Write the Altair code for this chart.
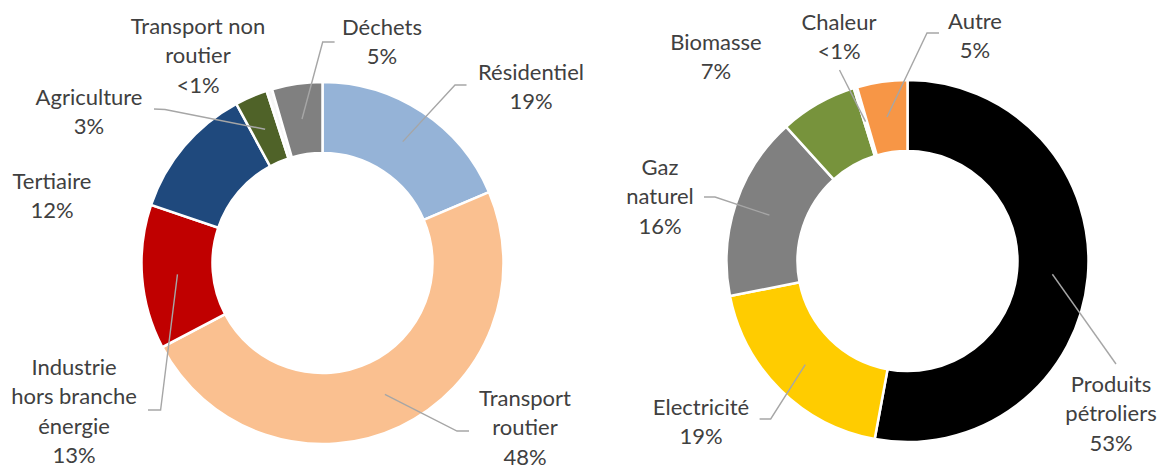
import math
import altair as alt
import pandas as pd

# ---------------- data ----------------
left_cats = ["Résidentiel", "Transport routier", "Industrie hors branche énergie",
             "Tertiaire", "Agriculture", "Transport non routier", "Déchets"]
left_vals = [18.6, 48.7, 12.9, 11.9, 2.9, 0.5, 4.5]
left_text = ["Résidentiel\n19%", "Transport\nroutier\n48%", "Industrie\nhors branche\nénergie\n13%",
             "Tertiaire\n12%", "Agriculture\n3%", "Transport non\nroutier\n<1%", "Déchets\n5%"]

right_cats = ["Produits pétroliers", "Electricité", "Gaz naturel", "Biomasse", "Chaleur", "Autre"]
right_vals = [52.9, 19.0, 16.4, 6.9, 0.3, 4.5]
right_text = ["Produits\npétroliers\n53%", "Electricité\n19%", "Gaz\nnaturel\n16%",
              "Biomasse\n7%", "Chaleur\n<1%", "Autre\n5%"]

# ---------------- styles / layout ----------------
left_colors = ["#95B3D7", "#FAC090", "#C00000", "#1F497D", "#4F6228", "#F7F7F7", "#808080"]
right_colors = ["#000000", "#FFCC00", "#808080", "#77933C", "#F7F7F7", "#F79646"]

W, H = 1150, 464
OFF = 8  # page margin: data coordinates below are page coordinates
L_CENTER = (322.5, 263.0)
R_CENTER = (907.5, 261.0)
R_IN, R_OUT = 110, 181
R_LEAD = 145.5
LINE_H = 29.3

# label positions: centre x and first-line y (page coords)
left_label_pos = [(531, 73), (525, 399), (74, 368), (52, 182), (89, 98), (198, 27), (382, 28)]
right_label_pos = [(1111, 385), (701, 408), (660, 168), (716, 43), (839, 23), (975, 22)]

# leader elbows/ends (page coords); None = no leader
left_leaders = [((455, 85), (466.5, 85)), ((457, 431), (469, 431)), ((160.6, 410), (148, 410)),
                None, ((165, 109.5), (154, 109)), None, ((322.7, 42), (334.6, 42))]
right_leaders = [((1116, 364), (1116, 364)), ((770.7, 419), (759.6, 419)), ((715, 197), (704, 197)),
                 None, ((839.5, 70), (839.5, 70)), ((927, 33), (939, 33))]


def arc_df(cats, vals):
    return pd.DataFrame({"cat": cats, "value": vals, "idx": list(range(len(cats)))})


def leader_rows(prefix, cats, vals, center, leaders):
    rows = []
    total = sum(vals)
    cum = 0.0
    for i, (c, v) in enumerate(zip(cats, vals)):
        mid = (cum + v / 2) / total * 2 * math.pi
        cum += v
        if leaders[i] is None:
            continue
        sx = center[0] + R_LEAD * math.sin(mid)
        sy = center[1] - R_LEAD * math.cos(mid)
        pts = [(sx, sy), leaders[i][0], leaders[i][1]]
        for k, (px, py) in enumerate(pts):
            rows.append({"leader": f"{prefix}{i}", "pt": k, "x": px, "y": py})
    return rows


lead_df = pd.DataFrame(leader_rows("L", left_cats, left_vals, L_CENTER, left_leaders)
                       + leader_rows("R", right_cats, right_vals, R_CENTER, right_leaders))

label_df = pd.DataFrame({
    "text": left_text + right_text,
    "x": [p[0] for p in left_label_pos] + [p[0] for p in right_label_pos],
    "y": [p[1] for p in left_label_pos] + [p[1] for p in right_label_pos],
})

xscale = alt.Scale(domain=[OFF, W + OFF], range=[0, W], nice=False, zero=False)
yscale = alt.Scale(domain=[OFF, H + OFF], range=[0, H], nice=False, zero=False)


def donut(df, cats, colors, center):
    return alt.Chart(df).mark_arc(innerRadius=R_IN, outerRadius=R_OUT, stroke="white",
                                  strokeWidth=2.5).encode(
        theta=alt.Theta("value:Q", stack=True),
        color=alt.Color("cat:N", scale=alt.Scale(domain=cats, range=colors), legend=None),
        order=alt.Order("idx:Q"),
        x=alt.value(center[0] - OFF),
        y=alt.value(center[1] - OFF),
    )


left_arc = donut(arc_df(left_cats, left_vals), left_cats, left_colors, L_CENTER)
right_arc = donut(arc_df(right_cats, right_vals), right_cats, right_colors, R_CENTER)

leaders = alt.Chart(lead_df).mark_line(color="#A6A6A6", strokeWidth=1.4).encode(
    x=alt.X("x:Q", scale=xscale, axis=None),
    y=alt.Y("y:Q", scale=yscale, axis=None),
    detail="leader:N",
    order="pt:Q",
)

labels = alt.Chart(label_df).mark_text(font="Lato", fontSize=22, color="#404040",
                                       lineBreak="\n", lineHeight=LINE_H,
                                       align="center", baseline="middle").encode(
    x=alt.X("x:Q", scale=xscale, axis=None),
    y=alt.Y("y:Q", scale=yscale, axis=None),
    text="text:N",
)

chart = alt.layer(left_arc, right_arc, leaders, labels).resolve_scale(
    theta="independent", color="independent"
).properties(
    width=W, height=H, padding=0, background="white",
    autosize=alt.AutoSizeParams(type="none")
).configure_view(stroke=None)

chart.save("out.html", embed_options={"renderer": "svg", "actions": False})
